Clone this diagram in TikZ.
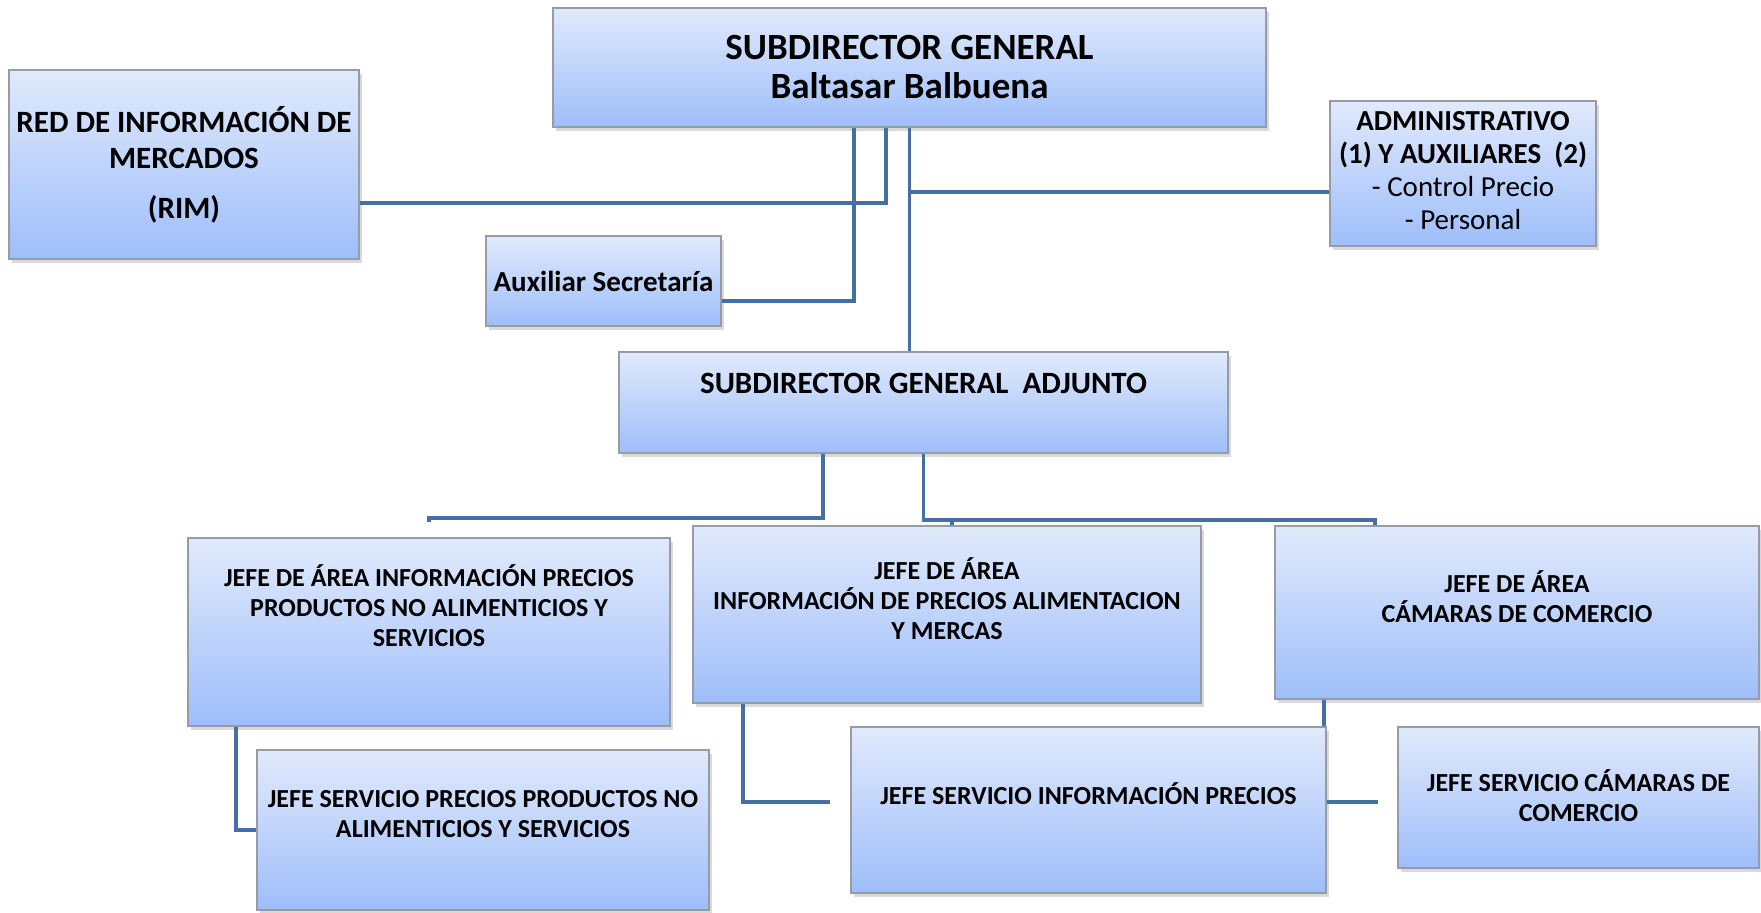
\documentclass[tikz,border=0pt]{standalone}
\usepackage{fontspec}
\setmainfont{Carlito}
\usetikzlibrary{positioning,calc,shadows}
\definecolor{boxtop}{RGB}{225,234,252}
\definecolor{boxbot}{RGB}{158,190,250}
\definecolor{boxline}{RGB}{150,155,165}
\definecolor{linkblue}{RGB}{68,112,164}
\tikzset{
  orgchart/.style={
    x=0.5pt
    ,y=-0.5pt
  }
  ,box/.style={rectangle
    ,draw=boxline
    ,line width=.8pt
    ,top color=boxtop
    ,bottom color=boxbot
    ,inner sep=0pt
    ,drop shadow={shadow xshift=1.5pt,shadow yshift=-2pt,opacity=.3}
  }
  ,boxtext/.style={inner sep=0pt, align=center
    ,font=\bfseries\fontsize{13}{15}\selectfont}
  ,headtext/.style={boxtext,font=\bfseries\fontsize{18.5}{19.5}\selectfont}
  ,sidetext/.style={boxtext,font=\bfseries\fontsize{14.5}{16.5}\selectfont}
  ,link/.style={draw=linkblue,line width=1.9pt}
}

\begin{document}
\begin{tikzpicture}[orgchart]
    \useasboundingbox (0,0) rectangle (1761,913);

    % top row
    \node[box,minimum width=356.5pt,minimum height=59.5pt] (subdir) at (909.5,67.5) {};
    \node[headtext] (subdirnm) at (subdir) {SUBDIRECTOR GENERAL\\Baltasar Balbuena};

    \node[box,minimum width=175pt,minimum height=94.5pt] (rim) at (184,164.5) {};
    \node[boxtext,font=\bfseries\fontsize{15.5}{18}\selectfont] (rimnm) at (rim)
      {RED DE INFORMACIÓN DE\\MERCADOS\\[7pt](RIM)};

    \node[box,minimum width=133pt,minimum height=72.5pt] (admin) at (1463,173.5) {};
    \node[sidetext,yshift=1.25pt] (adminnm) at (admin)
      {ADMINISTRATIVO\\(1) Y AUXILIARES\ \ (2)\\\textmd{- Control Precio}\\\textmd{- Personal}};

    \node[box,minimum width=117.5pt,minimum height=45pt] (auxsec) at (603.5,281) {};
    \node[sidetext] (auxsecnm) at (auxsec) {Auxiliar Secretaría};

    % adjunto
    \node[box,minimum width=304.5pt,minimum height=50.5pt] (adjunto) at (923.5,402.5) {};
    \node[boxtext,font=\bfseries\fontsize{15.5}{18}\selectfont,below=16pt of adjunto.north,anchor=center]
      (adjuntonm) {SUBDIRECTOR GENERAL\ \ ADJUNTO};

    % jefes de area
    \node[box,minimum width=241pt,minimum height=94pt] (areaone) at (429,632) {};
    \node[boxtext,below=34pt of areaone.north,anchor=center] (areaonenm)
      {JEFE DE ÁREA INFORMACIÓN PRECIOS\\PRODUCTOS NO ALIMENTICIOS Y\\SERVICIOS};

    \node[box,minimum width=254pt,minimum height=88.5pt] (areatwo) at (947,614.5) {};
    \node[boxtext,below=36.5pt of areatwo.north,anchor=center] (areatwonm)
      {JEFE DE ÁREA\\INFORMACIÓN DE PRECIOS ALIMENTACION\\Y MERCAS};

    \node[box,minimum width=242pt,minimum height=86.5pt] (areathree) at (1517,612.5) {};
    \node[boxtext,below=35.5pt of areathree.north,anchor=center] (areathreenm)
      {JEFE DE ÁREA\\CÁMARAS DE COMERCIO};

    % jefes de servicio
    \node[box,minimum width=226pt,minimum height=80pt] (servone) at (483,830) {};
    \node[boxtext,below=32.5pt of servone.north,anchor=center] (servonenm)
      {JEFE SERVICIO PRECIOS PRODUCTOS NO\\ALIMENTICIOS Y SERVICIOS};

    \node[box,minimum width=237.5pt,minimum height=83pt] (servtwo) at (1088.5,810) {};
    \node[boxtext,below=33.5pt of servtwo.north,anchor=center] (servtwonm)
      {JEFE SERVICIO INFORMACIÓN PRECIOS};

    \node[box,minimum width=180.5pt,minimum height=70.5pt] (servthree) at (1578.5,797.5) {};
    \node[boxtext,below=34.75pt of servthree.north,anchor=center] (servthreenm)
      {JEFE SERVICIO CÁMARAS DE\\COMERCIO};

    % links
    \coordinate (adminin) at ([yshift=-9.25pt]admin.west);
    \coordinate (areadrop) at ([xshift=-96.5pt]areathree.south);
    \draw[link] ([yshift=-19.25pt]rim.east) -| ([xshift=-11.75pt]subdir.south);
    \draw[link] ([yshift=-10pt]auxsec.east) -| ([xshift=-27.75pt]subdir.south);
    \draw[link] (subdir.south) -- (subdir.south |- adjunto.north);
    \draw[link] (adminin) -- (adminin -| subdir.south);
    \draw[link] ([xshift=-50.25pt]adjunto.south) -- ++(0,-32pt) -| ([yshift=7.5pt]areaone.north);
    \draw[link] (adjunto.south) -- ++(0,-33pt) -| ([xshift=-71pt]areathree.north);
    \draw[link] ([xshift=2.5pt]areatwo.north) -- ++(0,3.5pt);
    \draw[link] ([xshift=-96.5pt]areaone.south) |- (servone.west);
    \draw[link] ([xshift=-102pt]areatwo.south) |- ([xshift=-10pt,yshift=4pt]servtwo.west);
    \draw[link] (areadrop) -- (areadrop |- servtwo.north);
    \draw[link] ([yshift=4pt]servtwo.east) -- ++(25.5pt,0);
  \end{tikzpicture}
\end{document}
